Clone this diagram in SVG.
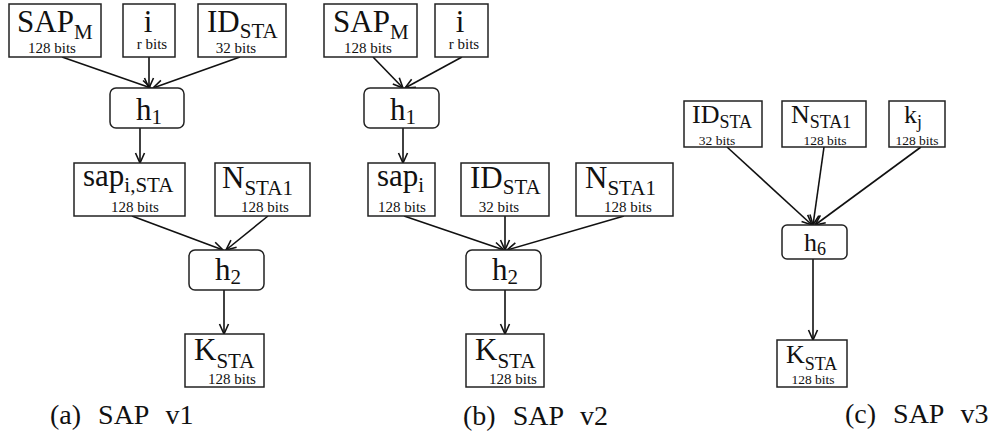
<svg xmlns="http://www.w3.org/2000/svg" width="998" height="437" viewBox="0 0 998 437" font-family="'Liberation Serif', 'DejaVu Serif', serif">
<style>
.b{fill:#fff;stroke:#222;stroke-width:1.5}
text{font-family:"Liberation Serif","DejaVu Serif",serif;fill:#111}
.m{font-size:31px}
.s{font-size:21px}
.t{font-size:15px}
.m3{font-size:26px}
.s3{font-size:18px}
.t3{font-size:13.5px}
.c{font-size:28px;word-spacing:10px}
.e{fill:none;stroke:#111;stroke-width:1.6}
</style>
<defs>
<marker id="a" markerWidth="12" markerHeight="12" refX="11" refY="6" orient="auto" markerUnits="userSpaceOnUse">
<path d="M1,1.5 L11,6 L1,10.5" fill="none" stroke="#111" stroke-width="1.6"/>
</marker>
</defs>
<g id="connectors">
<line class="e" x1="62" y1="57" x2="151" y2="88" marker-end="url(#a)"/>
<line class="e" x1="149" y1="57" x2="149" y2="88" marker-end="url(#a)"/>
<line class="e" x1="240" y1="57" x2="153" y2="88" marker-end="url(#a)"/>
<line class="e" x1="140" y1="128" x2="140" y2="163" marker-end="url(#a)"/>
<line class="e" x1="132" y1="216" x2="223" y2="250" marker-end="url(#a)"/>
<line class="e" x1="268" y1="216" x2="226" y2="250" marker-end="url(#a)"/>
<line class="e" x1="224" y1="290" x2="224" y2="334" marker-end="url(#a)"/>
<line class="e" x1="373" y1="57" x2="403" y2="88" marker-end="url(#a)"/>
<line class="e" x1="462" y1="57" x2="405" y2="88" marker-end="url(#a)"/>
<line class="e" x1="403" y1="128" x2="403" y2="163" marker-end="url(#a)"/>
<line class="e" x1="404" y1="216" x2="504" y2="250" marker-end="url(#a)"/>
<line class="e" x1="505" y1="216" x2="505" y2="250" marker-end="url(#a)"/>
<line class="e" x1="624" y1="216" x2="507" y2="250" marker-end="url(#a)"/>
<line class="e" x1="505" y1="290" x2="505" y2="334" marker-end="url(#a)"/>
<line class="e" x1="727" y1="147" x2="812" y2="225" marker-end="url(#a)"/>
<line class="e" x1="824" y1="147" x2="813" y2="225" marker-end="url(#a)"/>
<line class="e" x1="921" y1="147" x2="815" y2="225" marker-end="url(#a)"/>
<line class="e" x1="813" y1="259" x2="813" y2="340" marker-end="url(#a)"/>
</g>
<g id="v1-sapm"><rect class="b" x="9" y="4" width="92" height="53"/><text class="m" x="17" y="32">SAP<tspan class="s" dy="7">M</tspan></text><text class="t" x="52" y="53" text-anchor="middle">128 bits</text></g>
<g id="v1-i"><rect class="b" x="123" y="4" width="52" height="53"/><text class="m" x="148" y="32" text-anchor="middle">i</text><text class="t" x="152" y="49" text-anchor="middle">r bits</text></g>
<g id="v1-idsta"><rect class="b" x="198" y="4" width="88" height="53"/><text class="m" x="207" y="32">ID<tspan class="s" dy="6">STA</tspan></text><text class="t" x="236" y="53" text-anchor="middle">32 bits</text></g>
<g id="v1-h1"><rect class="b" x="110" y="88" width="74" height="40" rx="6"/><text class="m" x="136" y="120">h<tspan class="s" dy="4">1</tspan></text></g>
<g id="v1-sapista"><rect class="b" x="74" y="163" width="111" height="53"/><text class="m" x="83" y="186">sap<tspan class="s" dy="6">i,STA</tspan></text><text class="t" x="135" y="212" text-anchor="middle">128 bits</text></g>
<g id="v1-nsta1"><rect class="b" x="215" y="163" width="95" height="53"/><text class="m" x="222" y="188">N<tspan class="s" dy="7">STA1</tspan></text><text class="t" x="265" y="212" text-anchor="middle">128 bits</text></g>
<g id="v1-h2"><rect class="b" x="189" y="250" width="75" height="40" rx="6"/><text class="m" x="215" y="280">h<tspan class="s" dy="4">2</tspan></text></g>
<g id="v1-ksta"><rect class="b" x="185" y="334" width="79" height="53"/><text class="m" x="194" y="360">K<tspan class="s" dy="8">STA</tspan></text><text class="t" x="232" y="384" text-anchor="middle">128 bits</text></g>
<text id="cap-a" class="c" x="50" y="424">(a) SAP v1</text>
<g id="v2-sapm"><rect class="b" x="324" y="4" width="93" height="53"/><text class="m" x="333" y="32">SAP<tspan class="s" dy="7">M</tspan></text><text class="t" x="368" y="53" text-anchor="middle">128 bits</text></g>
<g id="v2-i"><rect class="b" x="435" y="4" width="53" height="53"/><text class="m" x="460" y="32" text-anchor="middle">i</text><text class="t" x="464" y="49" text-anchor="middle">r bits</text></g>
<g id="v2-h1"><rect class="b" x="364" y="88" width="75" height="40" rx="6"/><text class="m" x="390" y="120">h<tspan class="s" dy="4">1</tspan></text></g>
<g id="v2-sapi"><rect class="b" x="368" y="163" width="67" height="53"/><text class="m" x="377" y="186">sap<tspan class="s" dy="6">i</tspan></text><text class="t" x="402" y="212" text-anchor="middle">128 bits</text></g>
<g id="v2-idsta"><rect class="b" x="461" y="163" width="88" height="53"/><text class="m" x="470" y="188">ID<tspan class="s" dy="6">STA</tspan></text><text class="t" x="499" y="212" text-anchor="middle">32 bits</text></g>
<g id="v2-nsta1"><rect class="b" x="576" y="163" width="97" height="53"/><text class="m" x="585" y="188">N<tspan class="s" dy="7">STA1</tspan></text><text class="t" x="628" y="212" text-anchor="middle">128 bits</text></g>
<g id="v2-h2"><rect class="b" x="466" y="250" width="75" height="40" rx="6"/><text class="m" x="492" y="280">h<tspan class="s" dy="4">2</tspan></text></g>
<g id="v2-ksta"><rect class="b" x="466" y="334" width="78" height="53"/><text class="m" x="475" y="360">K<tspan class="s" dy="8">STA</tspan></text><text class="t" x="513" y="384" text-anchor="middle">128 bits</text></g>
<text id="cap-b" class="c" x="463" y="425">(b) SAP v2</text>
<g id="v3-idsta"><rect class="b" x="684" y="101" width="78" height="46"/><text class="m3" x="692" y="123">ID<tspan class="s3" dy="5">STA</tspan></text><text class="t3" x="717" y="144.5" text-anchor="middle">32 bits</text></g>
<g id="v3-nsta1"><rect class="b" x="782" y="101" width="84" height="46"/><text class="m3" x="791" y="123">N<tspan class="s3" dy="5">STA1</tspan></text><text class="t3" x="825" y="144.5" text-anchor="middle">128 bits</text></g>
<g id="v3-kj"><rect class="b" x="889" y="101" width="56" height="46"/><text class="m3" x="904" y="123">k<tspan class="s3" dy="5">j</tspan></text><text class="t3" x="917" y="144.5" text-anchor="middle">128 bits</text></g>
<g id="v3-h6"><rect class="b" x="782" y="225" width="65" height="34" rx="5"/><text class="m3" x="804" y="251">h<tspan class="s3" dy="4">6</tspan></text></g>
<g id="v3-ksta"><rect class="b" x="777" y="340" width="70" height="47"/><text class="m3" x="786" y="363">K<tspan class="s3" dy="7">STA</tspan></text><text class="t3" x="813" y="384" text-anchor="middle">128 bits</text></g>
<text id="cap-c" class="c" x="845" y="423">(c) SAP v3</text>
</svg>
